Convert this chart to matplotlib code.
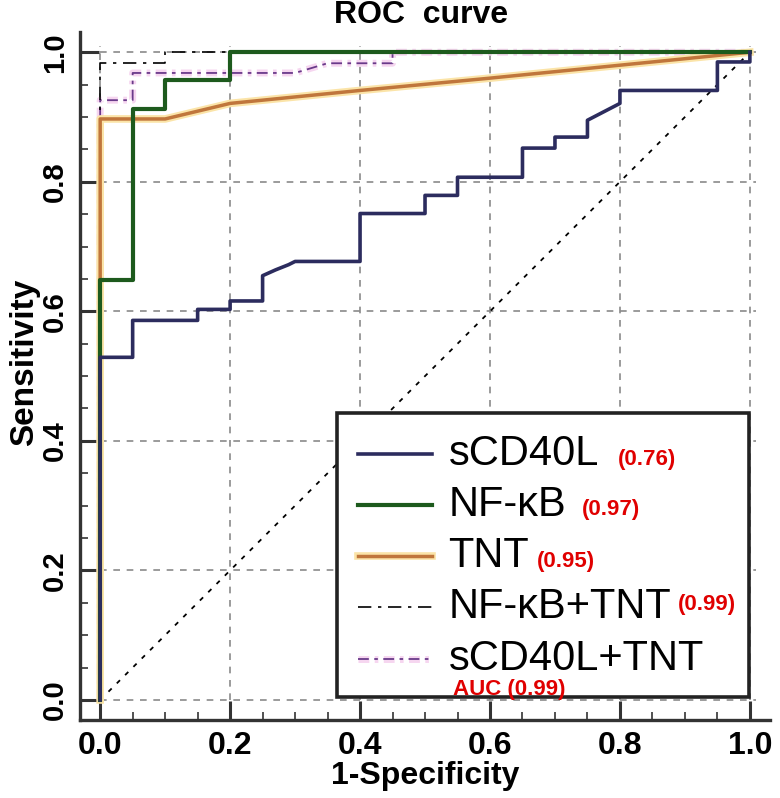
import numpy as np
import matplotlib
matplotlib.use("Agg")
import matplotlib.pyplot as plt
import matplotlib.patheffects as pe
from matplotlib.patches import Rectangle

# dati (1-specificita, sensibilita)
fpr_scd40l = [0, 0, 0.05, 0.05, 0.15, 0.15, 0.20, 0.20, 0.25, 0.25, 0.27, 0.29, 0.30, 0.40, 0.40,
              0.50, 0.50, 0.55, 0.55, 0.65, 0.65, 0.70, 0.70, 0.75, 0.75, 0.80, 0.80, 0.95, 0.95, 1.0, 1.0]
tpr_scd40l = [0, 0.529, 0.529, 0.586, 0.586, 0.603, 0.603, 0.616, 0.616, 0.655, 0.664, 0.672, 0.677, 0.677, 0.751,
              0.751, 0.779, 0.779, 0.807, 0.807, 0.852, 0.852, 0.869, 0.869, 0.895, 0.921, 0.941, 0.941, 0.985, 0.985, 1.0]

fpr_nfkb = [0, 0, 0.05, 0.05, 0.10, 0.10, 0.20, 0.20, 1.0]
tpr_nfkb = [0, 0.648, 0.648, 0.912, 0.912, 0.957, 0.957, 1.0, 1.0]

fpr_tnt = [0, 0, 0.10, 0.20, 0.40, 0.60, 0.80, 1.0]
tpr_tnt = [0, 0.897, 0.897, 0.921, 0.941, 0.960, 0.980, 1.0]

fpr_nfkb_tnt = [0, 0, 0.10, 0.10, 1.0]
tpr_nfkb_tnt = [0, 0.983, 0.983, 1.0, 1.0]

fpr_scd_tnt = [0, 0, 0.05, 0.05, 0.30, 0.35, 0.45, 0.45, 1.0]
tpr_scd_tnt = [0, 0.926, 0.926, 0.968, 0.968, 0.983, 0.983, 1.0, 1.0]

nomi = ["sCD40L", "NF-\u03baB", "TNT", "NF-\u03baB+TNT", "sCD40L+TNT"]
auc = ["(0.76)", "(0.97)", "(0.95)", "(0.99)", "AUC (0.99)"]
griglia = [0, 0.2, 0.4, 0.6, 0.8, 1.0]

arial = ["Liberation Sans", "DejaVu Sans"]

fig = plt.figure(figsize=(7.8, 7.98), dpi=100)
ax = fig.add_axes([0.1026, 0.0977, 0.8846, 0.862])
ax.set_xlim(-0.031, 1.031)
ax.set_ylim(-0.031, 1.031)

# griglia tratteggiata solo dentro 0-1
ax.hlines(griglia, 0, 1.01, colors="#8a8a8a", linestyles=(0, (4, 4)), linewidth=1.2, zorder=1)
ax.vlines(griglia, 0, 1.01, colors="#8a8a8a", linestyles=(0, (4, 4)), linewidth=1.2, zorder=1)

# diagonale
ax.plot([0, 1], [0, 1], color="black", linestyle=(0, (2.5, 4)), linewidth=1.3, zorder=2)

alone_rosa = [pe.Stroke(linewidth=5, foreground="#f6d6f0"), pe.Normal()]
alone_giallo = [pe.Stroke(linewidth=5.5, foreground="#fbe4a8"), pe.Normal()]

ax.plot(fpr_scd_tnt, tpr_scd_tnt, color="#6a3a8a", linestyle=(0, (6, 3, 2, 3)), linewidth=1.3,
        path_effects=alone_rosa, zorder=3)
ax.plot(fpr_nfkb_tnt, tpr_nfkb_tnt, color="black", linestyle=(0, (8, 4, 2, 4)), linewidth=1.2, zorder=4)
ax.plot(fpr_tnt, tpr_tnt, color="#c0763c", linewidth=2.5, path_effects=alone_giallo, zorder=5)
ax.plot(fpr_nfkb, tpr_nfkb, color="#1d5a1d", linewidth=3.0, zorder=6)
ax.plot(fpr_scd40l, tpr_scd40l, color="#2c2c5e", linewidth=2.6, zorder=7)

# assi
for s in ["top", "right"]:
    ax.spines[s].set_visible(False)
for s in ["left", "bottom"]:
    ax.spines[s].set_linewidth(2.4)
    ax.spines[s].set_color("#333333")

ax.set_xticks(griglia)
ax.set_yticks(griglia)
ax.set_xticks(np.arange(0, 1.001, 0.05), minor=True)
ax.set_yticks(np.arange(0, 1.001, 0.05), minor=True)
ax.tick_params(which="major", direction="in", length=14, width=2.2, color="#333333")
ax.tick_params(which="minor", direction="in", length=6, width=1.2, color="#333333")
ax.tick_params(axis="x", pad=8)
ax.tick_params(axis="y", pad=8)
ax.set_xticklabels(["%.1f" % v for v in griglia], family=arial, fontweight="bold", fontsize=23)
ax.set_yticklabels(["%.1f" % v for v in griglia], family=arial, fontweight="bold", fontsize=21,
                   rotation=90, va="center")

ax.set_xlabel("1-Specificity", family=arial, fontweight="bold", fontsize=23, labelpad=0)
ax.set_ylabel("Sensitivity", family=arial, fontweight="bold", fontsize=24)
ax.yaxis.set_label_coords(-0.058, 0.52)
fig.text(0.54, 0.981, "ROC  curve", family=arial, fontweight="bold", fontsize=23, ha="center", va="center")

# legenda disegnata a mano
ax.add_patch(Rectangle((0.365, 0.005), 0.633, 0.438, facecolor="white", edgecolor="#222222",
                       linewidth=2.6, zorder=10))
stili = [
    dict(color="#2c2c5e", linewidth=2.6),
    dict(color="#1d5a1d", linewidth=3.0),
    dict(color="#c0763c", linewidth=2.5, path_effects=alone_giallo),
    dict(color="black", linestyle=(0, (8, 4, 2, 4)), linewidth=1.2),
    dict(color="#6a3a8a", linestyle=(0, (6, 3, 2, 3)), linewidth=1.3, path_effects=alone_rosa),
]
righe_y = [0.380, 0.301, 0.223, 0.144, 0.064]
auc_x = [0.797, 0.742, 0.672, 0.889, 0.543]
auc_y = [0.363, 0.285, 0.205, 0.139, 0.007]
for i in range(len(nomi)):
    ax.plot([0.397, 0.511], [righe_y[i], righe_y[i]], zorder=11, **stili[i])
    ax.text(0.536, righe_y[i], nomi[i], family=arial, fontsize=30, va="center", ha="left", zorder=12)
    ax.text(auc_x[i], auc_y[i], auc[i], family=arial, fontsize=16, fontweight="bold", color="#e00000",
            va="baseline", ha="left", zorder=12)

fig.savefig("out.png", dpi=100)
